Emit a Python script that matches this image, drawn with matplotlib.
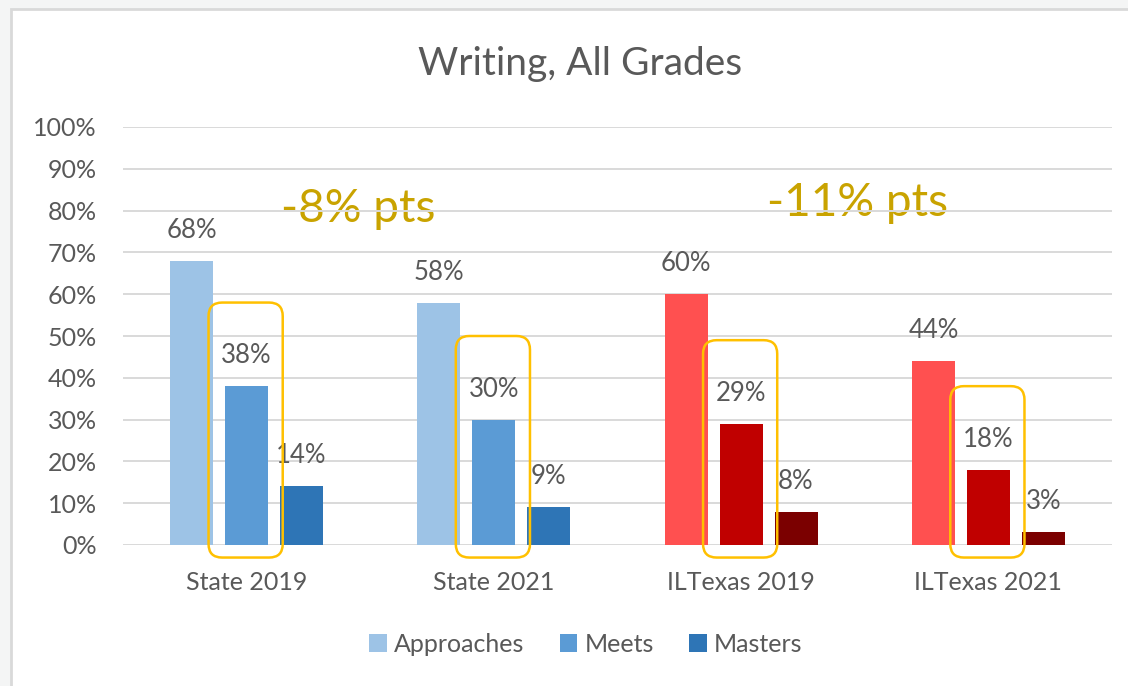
import numpy as np
import matplotlib.pyplot as plt
import matplotlib.patches as patches

categories = ['State 2019', 'State 2021', 'ILTexas 2019', 'ILTexas 2021']
series = ['Approaches', 'Meets', 'Masters']
approaches = [68, 58, 60, 44]
meets = [38, 30, 29, 18]
masters = [14, 9, 8, 3]
yticks = [0, 10, 20, 30, 40, 50, 60, 70, 80, 90, 100]
drops = ['-8% pts', '-11% pts']

blues = ['#9DC3E6', '#5B9BD5', '#2E75B6']
reds = ['#FF5050', '#C00000', '#7B0000']
gold = '#FFC000'
gold_txt = '#C9A300'
grey = '#595959'

plt.rcParams['font.family'] = ['Lato', 'DejaVu Sans']

W, H = 1128, 686
fig = plt.figure(figsize=(W / 100, H / 100), dpi=100, facecolor='#f4f5f5')

# fond blanc du graphique avec bordure
fig.patches.append(patches.Rectangle((11 / W, -0.1), 1.2, 1.1 - 9 / H, transform=fig.transFigure,
                                     facecolor='white', edgecolor='#d9d9d9', linewidth=2, zorder=-5))

ax = fig.add_axes([123 / W, 1 - 545 / H, 989 / W, 418 / H])
ax.set_facecolor('none')

x = np.arange(len(categories))
width = 0.174
step = 0.222
values = [approaches, meets, masters]
for i, vals in enumerate(values):
    colors = [blues[i] if c < 2 else reds[i] for c in range(len(categories))]
    pos = x + (i - 1) * step
    ax.bar(pos, vals, width, color=colors, label=series[i], zorder=3)
    for p, v in zip(pos, vals):
        ax.text(p, v + 7.3, f'{v}%', ha='center', va='center', fontsize=18.5, color=grey, zorder=4)

ax.set_xlim(-0.5, len(categories) - 0.5)
ax.set_ylim(0, 100)
ax.set_yticks(yticks)
ax.set_yticklabels([f'{t}%' for t in yticks])
ax.set_xticks(x)
ax.set_xticklabels(categories)
ax.tick_params(axis='both', length=0, labelsize=18, labelcolor=grey)
ax.tick_params(axis='y', pad=19)
ax.tick_params(axis='x', pad=19)
ax.grid(axis='y', color='#d9d9d9', linewidth=1.4, zorder=1)
for s in ax.spines.values():
    s.set_visible(False)

# cadres arrondis autour des barres "Meets"
xpp = (len(categories)) / 989
ypp = 100 / 418
aspect = ypp / xpp
bw = 0.30
for c, v in enumerate(meets):
    top = v + 20
    bottom = -3
    box = patches.FancyBboxPatch((x[c] - bw / 2 - 0.004, bottom), bw, top - bottom,
                                 boxstyle='round,pad=0,rounding_size=0.055',
                                 mutation_aspect=aspect, facecolor='none',
                                 edgecolor=gold, linewidth=1.8, clip_on=False, zorder=5)
    ax.add_patch(box)

ax.text(0.45, 80.5, drops[0], ha='center', va='center', fontsize=33, color=gold_txt, zorder=0)
ax.text(2.47, 81.8, drops[1], ha='center', va='center', fontsize=33, color=gold_txt, zorder=0)

fig.text(580 / W, 1 - 64 / H, 'Writing, All Grades', ha='center', va='center', fontsize=28, color=grey)

fig.legend(loc='center', bbox_to_anchor=(586 / W, 1 - 644 / H), ncol=3, frameon=False,
           fontsize=18, labelcolor=grey, handlelength=0.7, handleheight=0.7,
           handletextpad=0.3, columnspacing=1.4)

fig.savefig('out.png', dpi=100, facecolor=fig.get_facecolor())
